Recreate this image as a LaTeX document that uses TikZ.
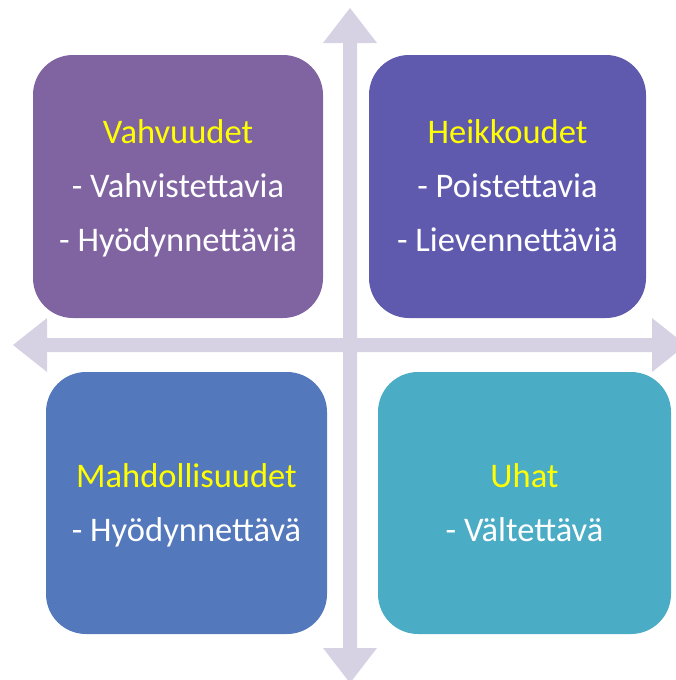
\documentclass[tikz,border=0pt]{standalone}
\usepackage{fontspec}
\setmainfont{Carlito}
\definecolor{cTL}{HTML}{8064A2}
\definecolor{cTR}{HTML}{5F5AAD}
\definecolor{cBL}{HTML}{5478BC}
\definecolor{cBR}{HTML}{4BACC6}
\definecolor{cAx}{HTML}{D7D2E3}
\definecolor{cYel}{HTML}{FFFF00}
\newcommand{\topstr}{\rule{0pt}{30pt}}
\newcommand{\botstr}{\rule[-7.5pt]{0pt}{7.5pt}}
\tikzset{
  quad/.style={draw=none, rounded corners=40pt, inner sep=0pt, text=white,
    align=center, font=\fontsize{34.5}{54}\selectfont},
  axis/.style={fill=cAx, draw=none},
}
\begin{document}
\begin{tikzpicture}[x=1pt,y=-1pt]
\useasboundingbox (0,0) rectangle (676,680);
\clip (0,0) rectangle (676,680);
% horizontal axis
\fill[axis] (13,345) -- (47,318) -- (47,338) -- (652,338) -- (652,318) -- (686,345)
  -- (652,372) -- (652,352) -- (47,352) -- (47,372) -- cycle;
% vertical axis
\fill[axis] (350,8) -- (377,43) -- (357,43) -- (357,648) -- (377,648) -- (350,683)
  -- (323,648) -- (343,648) -- (343,43) -- (323,43) -- cycle;
% boxes
\node[quad, fill=cTL, minimum width=290pt, minimum height=263pt] (tl) at (178,186.5)
  {\topstr\textcolor{cYel}{Vahvuudet}\\- Vahvistettavia\\- Hyödynnettäviä\botstr};
\node[quad, fill=cTR, minimum width=277pt, minimum height=263pt] (tr) at (507.5,186.5)
  {\topstr\textcolor{cYel}{Heikkoudet}\\- Poistettavia\\- Lievennettäviä\botstr};
\node[quad, fill=cBL, minimum width=281pt, minimum height=262pt] (bl) at (186.5,503)
  {\topstr\textcolor{cYel}{Mahdollisuudet}\\- Hyödynnettävä\botstr};
\node[quad, fill=cBR, minimum width=293pt, minimum height=262pt] (br) at (524.5,503)
  {\topstr\textcolor{cYel}{Uhat}\\- Vältettävä\botstr};
\end{tikzpicture}
\end{document}
